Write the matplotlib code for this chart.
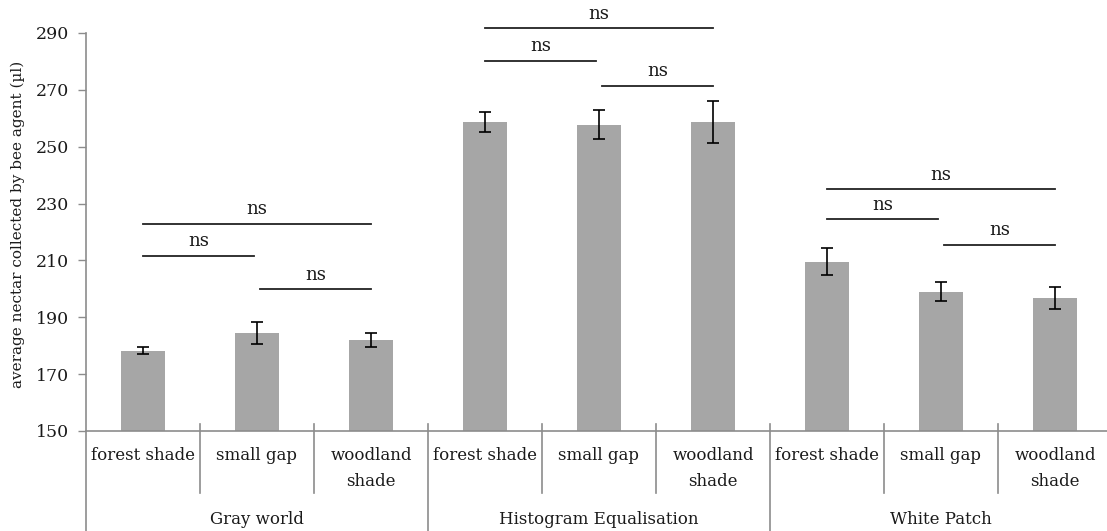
import matplotlib
matplotlib.use("Agg")
import matplotlib.pyplot as plt
from matplotlib.lines import Line2D

# Data
groups = ["Gray world", "Histogram Equalisation", "White Patch"]
habitats = ["forest shade", "small gap", "woodland\nshade"]
means = [178.2, 184.5, 182.1,
         258.8, 257.7, 258.8,
         209.6, 199.0, 196.7]
errors = [1.2, 4.0, 2.4,
          3.5, 5.1, 7.4,
          4.6, 3.4, 3.8]
y_ticks = [150, 170, 190, 210, 230, 250, 270, 290]
ylabel = "average nectar collected by bee agent (µl)"
sig_label = "ns"
# (left bar, right bar, bracket height) for each pairwise comparison
comparisons = [
    (0, 2, 222.9), (0, 1, 211.7), (1, 2, 199.9),
    (3, 5, 291.6), (3, 4, 280.3), (4, 5, 271.4),
    (6, 8, 235.1), (6, 7, 224.5), (7, 8, 215.5),
]

W, H = 1107, 531
fig = plt.figure(figsize=(W / 100, H / 100), dpi=100)
left_px, right_px, top_px, bottom_px = 86, 1112, 33, 431
ax = fig.add_axes([left_px / W, 1 - bottom_px / H,
                   (right_px - left_px) / W, (bottom_px - top_px) / H])

serif = "DejaVu Serif"
axis_grey = "#8c8c8c"
bar_grey = "#a6a6a6"
text_col = "#1a1a1a"

n = len(means)
xs = list(range(n))
ax.bar(xs, means, width=44 / 114, bottom=0, color=bar_grey, zorder=2)
ax.errorbar(xs, means, yerr=errors, fmt="none", ecolor="black",
            elinewidth=1.2, capsize=4, capthick=1.2, zorder=3)

ax.set_xlim(-0.5, n - 0.5)
ax.set_ylim(y_ticks[0], y_ticks[-1])
ax.set_yticks(y_ticks)
ax.set_yticklabels([str(t) for t in y_ticks], fontfamily=serif,
                   fontsize=12.5, color=text_col)
ax.tick_params(axis="y", length=6, width=1, color=axis_grey, pad=6)
ax.set_xticks([])

for side in ("top", "right"):
    ax.spines[side].set_visible(False)
for side in ("left", "bottom"):
    ax.spines[side].set_color(axis_grey)
    ax.spines[side].set_linewidth(1.2)


def fx(px):
    return px / W


def fy(px):
    return 1 - px / H


fig.text(fx(18), fy(224), ylabel, rotation=90, ha="center", va="center",
         fontfamily=serif, fontsize=11, color=text_col)

# Significance brackets
for a, b, h in comparisons:
    x0, x1 = a, b
    if b - a == 1:
        if a % 3 == 0:
            x1 = b - 0.03
        else:
            x0 = a + 0.03
    ax.plot([x0, x1], [h, h], color="#222222", lw=1.3, clip_on=False, zorder=4)
    ax.annotate(sig_label, xy=((x0 + x1) / 2, h), xytext=(0, 4),
                textcoords="offset points", ha="center", va="bottom",
                fontfamily=serif, fontsize=13, color=text_col,
                annotation_clip=False)

# Two-level category axis drawn in figure pixels
slot = (right_px - left_px) / n
for i in range(n):
    cx = left_px + slot * (i + 0.5)
    for k, line in enumerate(habitats[i % 3].split("\n")):
        fig.text(fx(cx), fy(455 + 27 * k), line, ha="center", va="center",
                 fontfamily=serif, fontsize=12, color=text_col)
for i in range(1, n):
    xp = left_px + slot * i
    end = 531 if i % 3 == 0 else 493
    fig.add_artist(Line2D([fx(xp), fx(xp)], [fy(424), fy(end)],
                          color=axis_grey, lw=1.2))
fig.add_artist(Line2D([fx(left_px), fx(left_px)], [fy(431), fy(531)],
                      color=axis_grey, lw=1.2))
for g, name in enumerate(groups):
    cx = left_px + slot * (3 * g + 1.5)
    fig.text(fx(cx), fy(519), name, ha="center", va="center",
             fontfamily=serif, fontsize=12, color=text_col)

fig.savefig("out.png", dpi=100)
